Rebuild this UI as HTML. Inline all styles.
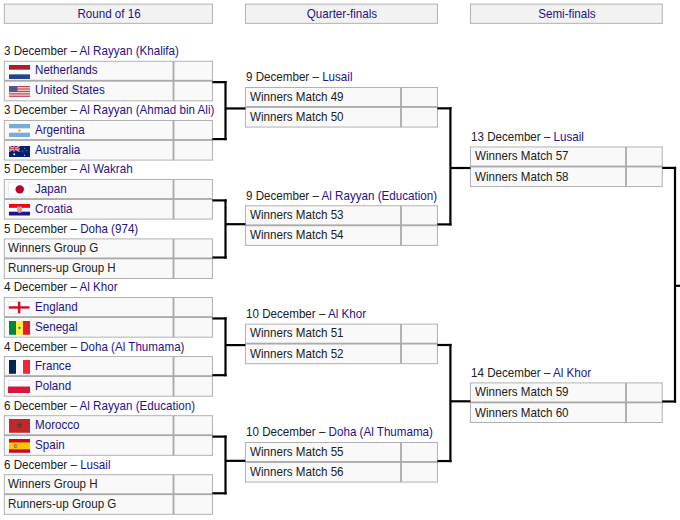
<!DOCTYPE html>
<html><head><meta charset="utf-8"><style>
html,body{margin:0;padding:0;background:#fff;}
body{width:680px;height:520px;position:relative;overflow:hidden;font-family:"Liberation Sans",sans-serif;font-size:13px;line-height:15px;color:#202122;}
.t{position:absolute;white-space:nowrap;transform:scaleX(0.893);transform-origin:0 0;}
.c{transform-origin:50% 0;}
.f{position:absolute;}
.f svg{display:block;width:100%;height:100%;}
svg.g{position:absolute;left:0;top:0;}
</style></head><body>
<svg class="g" width="680" height="520" viewBox="0 0 680 520"><rect x="4.30" y="4.10" width="208.10" height="19.20" fill="#f2f2f2"/><rect x="3.84" y="3.64" width="209.01" height="0.91" fill="#aaa"/><rect x="3.84" y="22.85" width="209.01" height="0.91" fill="#aaa"/><rect x="3.84" y="4.10" width="0.91" height="19.20" fill="#aaa"/><rect x="211.94" y="4.10" width="0.91" height="19.20" fill="#aaa"/><rect x="245.40" y="4.10" width="192.00" height="19.20" fill="#f2f2f2"/><rect x="244.94" y="3.64" width="192.91" height="0.91" fill="#aaa"/><rect x="244.94" y="22.85" width="192.91" height="0.91" fill="#aaa"/><rect x="244.94" y="4.10" width="0.91" height="19.20" fill="#aaa"/><rect x="436.94" y="4.10" width="0.91" height="19.20" fill="#aaa"/><rect x="470.40" y="4.10" width="191.80" height="19.20" fill="#f2f2f2"/><rect x="469.94" y="3.64" width="192.71" height="0.91" fill="#aaa"/><rect x="469.94" y="22.85" width="192.71" height="0.91" fill="#aaa"/><rect x="469.94" y="4.10" width="0.91" height="19.20" fill="#aaa"/><rect x="661.75" y="4.10" width="0.91" height="19.20" fill="#aaa"/><rect x="4.30" y="61.25" width="208.10" height="39.60" fill="#f9f9f9"/><rect x="3.84" y="60.80" width="209.01" height="0.91" fill="#aaa"/><rect x="3.84" y="100.39" width="209.01" height="0.91" fill="#aaa"/><rect x="4.30" y="79.84" width="208.10" height="1.82" fill="#aaa"/><rect x="3.84" y="61.25" width="0.91" height="39.60" fill="#aaa"/><rect x="211.94" y="61.25" width="0.91" height="39.60" fill="#aaa"/><rect x="172.59" y="61.25" width="1.82" height="39.60" fill="#aaa"/><rect x="4.30" y="120.50" width="208.10" height="39.60" fill="#f9f9f9"/><rect x="3.84" y="120.05" width="209.01" height="0.91" fill="#aaa"/><rect x="3.84" y="159.64" width="209.01" height="0.91" fill="#aaa"/><rect x="4.30" y="139.09" width="208.10" height="1.82" fill="#aaa"/><rect x="3.84" y="120.50" width="0.91" height="39.60" fill="#aaa"/><rect x="211.94" y="120.50" width="0.91" height="39.60" fill="#aaa"/><rect x="172.59" y="120.50" width="1.82" height="39.60" fill="#aaa"/><rect x="4.30" y="179.50" width="208.10" height="39.60" fill="#f9f9f9"/><rect x="3.84" y="179.04" width="209.01" height="0.91" fill="#aaa"/><rect x="3.84" y="218.64" width="209.01" height="0.91" fill="#aaa"/><rect x="4.30" y="198.09" width="208.10" height="1.82" fill="#aaa"/><rect x="3.84" y="179.50" width="0.91" height="39.60" fill="#aaa"/><rect x="211.94" y="179.50" width="0.91" height="39.60" fill="#aaa"/><rect x="172.59" y="179.50" width="1.82" height="39.60" fill="#aaa"/><rect x="4.30" y="238.90" width="208.10" height="39.60" fill="#f9f9f9"/><rect x="3.84" y="238.44" width="209.01" height="0.91" fill="#aaa"/><rect x="3.84" y="278.05" width="209.01" height="0.91" fill="#aaa"/><rect x="4.30" y="257.49" width="208.10" height="1.82" fill="#aaa"/><rect x="3.84" y="238.90" width="0.91" height="39.60" fill="#aaa"/><rect x="211.94" y="238.90" width="0.91" height="39.60" fill="#aaa"/><rect x="172.59" y="238.90" width="1.82" height="39.60" fill="#aaa"/><rect x="4.30" y="297.55" width="208.10" height="39.60" fill="#f9f9f9"/><rect x="3.84" y="297.10" width="209.01" height="0.91" fill="#aaa"/><rect x="3.84" y="336.70" width="209.01" height="0.91" fill="#aaa"/><rect x="4.30" y="316.14" width="208.10" height="1.82" fill="#aaa"/><rect x="3.84" y="297.55" width="0.91" height="39.60" fill="#aaa"/><rect x="211.94" y="297.55" width="0.91" height="39.60" fill="#aaa"/><rect x="172.59" y="297.55" width="1.82" height="39.60" fill="#aaa"/><rect x="4.30" y="356.60" width="208.10" height="39.60" fill="#f9f9f9"/><rect x="3.84" y="356.15" width="209.01" height="0.91" fill="#aaa"/><rect x="3.84" y="395.75" width="209.01" height="0.91" fill="#aaa"/><rect x="4.30" y="375.19" width="208.10" height="1.82" fill="#aaa"/><rect x="3.84" y="356.60" width="0.91" height="39.60" fill="#aaa"/><rect x="211.94" y="356.60" width="0.91" height="39.60" fill="#aaa"/><rect x="172.59" y="356.60" width="1.82" height="39.60" fill="#aaa"/><rect x="4.30" y="415.70" width="208.10" height="39.60" fill="#f9f9f9"/><rect x="3.84" y="415.25" width="209.01" height="0.91" fill="#aaa"/><rect x="3.84" y="454.85" width="209.01" height="0.91" fill="#aaa"/><rect x="4.30" y="434.29" width="208.10" height="1.82" fill="#aaa"/><rect x="3.84" y="415.70" width="0.91" height="39.60" fill="#aaa"/><rect x="211.94" y="415.70" width="0.91" height="39.60" fill="#aaa"/><rect x="172.59" y="415.70" width="1.82" height="39.60" fill="#aaa"/><rect x="4.30" y="474.70" width="208.10" height="39.60" fill="#f9f9f9"/><rect x="3.84" y="474.25" width="209.01" height="0.91" fill="#aaa"/><rect x="3.84" y="513.84" width="209.01" height="0.91" fill="#aaa"/><rect x="4.30" y="493.29" width="208.10" height="1.82" fill="#aaa"/><rect x="3.84" y="474.70" width="0.91" height="39.60" fill="#aaa"/><rect x="211.94" y="474.70" width="0.91" height="39.60" fill="#aaa"/><rect x="172.59" y="474.70" width="1.82" height="39.60" fill="#aaa"/><rect x="245.40" y="87.45" width="192.00" height="39.60" fill="#f9f9f9"/><rect x="244.94" y="87.00" width="192.91" height="0.91" fill="#aaa"/><rect x="244.94" y="126.60" width="192.91" height="0.91" fill="#aaa"/><rect x="245.40" y="106.04" width="192.00" height="1.82" fill="#aaa"/><rect x="244.94" y="87.45" width="0.91" height="39.60" fill="#aaa"/><rect x="436.94" y="87.45" width="0.91" height="39.60" fill="#aaa"/><rect x="400.09" y="87.45" width="1.82" height="39.60" fill="#aaa"/><rect x="245.40" y="205.80" width="192.00" height="39.60" fill="#f9f9f9"/><rect x="244.94" y="205.34" width="192.91" height="0.91" fill="#aaa"/><rect x="244.94" y="244.94" width="192.91" height="0.91" fill="#aaa"/><rect x="245.40" y="224.39" width="192.00" height="1.82" fill="#aaa"/><rect x="244.94" y="205.80" width="0.91" height="39.60" fill="#aaa"/><rect x="436.94" y="205.80" width="0.91" height="39.60" fill="#aaa"/><rect x="400.09" y="205.80" width="1.82" height="39.60" fill="#aaa"/><rect x="245.40" y="324.10" width="192.00" height="39.60" fill="#f9f9f9"/><rect x="244.94" y="323.65" width="192.91" height="0.91" fill="#aaa"/><rect x="244.94" y="363.25" width="192.91" height="0.91" fill="#aaa"/><rect x="245.40" y="342.69" width="192.00" height="1.82" fill="#aaa"/><rect x="244.94" y="324.10" width="0.91" height="39.60" fill="#aaa"/><rect x="436.94" y="324.10" width="0.91" height="39.60" fill="#aaa"/><rect x="400.09" y="324.10" width="1.82" height="39.60" fill="#aaa"/><rect x="245.40" y="442.45" width="192.00" height="39.60" fill="#f9f9f9"/><rect x="244.94" y="442.00" width="192.91" height="0.91" fill="#aaa"/><rect x="244.94" y="481.60" width="192.91" height="0.91" fill="#aaa"/><rect x="245.40" y="461.04" width="192.00" height="1.82" fill="#aaa"/><rect x="244.94" y="442.45" width="0.91" height="39.60" fill="#aaa"/><rect x="436.94" y="442.45" width="0.91" height="39.60" fill="#aaa"/><rect x="400.09" y="442.45" width="1.82" height="39.60" fill="#aaa"/><rect x="470.40" y="147.00" width="191.80" height="39.60" fill="#f9f9f9"/><rect x="469.94" y="146.54" width="192.71" height="0.91" fill="#aaa"/><rect x="469.94" y="186.14" width="192.71" height="0.91" fill="#aaa"/><rect x="470.40" y="165.59" width="191.80" height="1.82" fill="#aaa"/><rect x="469.94" y="147.00" width="0.91" height="39.60" fill="#aaa"/><rect x="661.75" y="147.00" width="0.91" height="39.60" fill="#aaa"/><rect x="625.09" y="147.00" width="1.82" height="39.60" fill="#aaa"/><rect x="470.40" y="382.90" width="191.80" height="39.60" fill="#f9f9f9"/><rect x="469.94" y="382.44" width="192.71" height="0.91" fill="#aaa"/><rect x="469.94" y="422.05" width="192.71" height="0.91" fill="#aaa"/><rect x="470.40" y="401.49" width="191.80" height="1.82" fill="#aaa"/><rect x="469.94" y="382.90" width="0.91" height="39.60" fill="#aaa"/><rect x="661.75" y="382.90" width="0.91" height="39.60" fill="#aaa"/><rect x="625.09" y="382.90" width="1.82" height="39.60" fill="#aaa"/><rect x="212.40" y="81.05" width="14.20" height="2.20" fill="#000"/><rect x="212.40" y="138.00" width="14.20" height="2.20" fill="#000"/><rect x="224.40" y="81.05" width="2.20" height="59.15" fill="#000"/><rect x="225.50" y="107.35" width="19.90" height="2.20" fill="#000"/><rect x="212.40" y="199.30" width="14.20" height="2.20" fill="#000"/><rect x="212.40" y="256.40" width="14.20" height="2.20" fill="#000"/><rect x="224.40" y="199.30" width="2.20" height="59.30" fill="#000"/><rect x="225.50" y="223.10" width="19.90" height="2.20" fill="#000"/><rect x="212.40" y="317.35" width="14.20" height="2.20" fill="#000"/><rect x="212.40" y="374.10" width="14.20" height="2.20" fill="#000"/><rect x="224.40" y="317.35" width="2.20" height="58.95" fill="#000"/><rect x="225.50" y="344.00" width="19.90" height="2.20" fill="#000"/><rect x="212.40" y="435.50" width="14.20" height="2.20" fill="#000"/><rect x="212.40" y="492.20" width="14.20" height="2.20" fill="#000"/><rect x="224.40" y="435.50" width="2.20" height="58.90" fill="#000"/><rect x="225.50" y="459.75" width="19.90" height="2.20" fill="#000"/><rect x="437.40" y="107.25" width="14.10" height="2.20" fill="#000"/><rect x="437.40" y="223.30" width="14.10" height="2.20" fill="#000"/><rect x="449.30" y="107.25" width="2.20" height="118.25" fill="#000"/><rect x="450.40" y="166.90" width="20.00" height="2.20" fill="#000"/><rect x="437.40" y="343.90" width="14.10" height="2.20" fill="#000"/><rect x="437.40" y="459.95" width="14.10" height="2.20" fill="#000"/><rect x="449.30" y="343.90" width="2.20" height="118.25" fill="#000"/><rect x="450.40" y="400.20" width="20.00" height="2.20" fill="#000"/><rect x="662.20" y="166.80" width="13.90" height="2.20" fill="#000"/><rect x="662.20" y="400.40" width="13.90" height="2.20" fill="#000"/><rect x="673.90" y="166.80" width="2.20" height="235.80" fill="#000"/><rect x="675.00" y="284.70" width="5.00" height="2.20" fill="#000"/></svg>
<div class="t c" style="left:5.10px;width:208.10px;text-align:center;top:6.00px;color:#24128a">Round of 16</div>
<div class="t c" style="left:246.20px;width:192.00px;text-align:center;top:6.00px;color:#24128a">Quarter-finals</div>
<div class="t c" style="left:471.20px;width:191.80px;text-align:center;top:6.00px;color:#24128a">Semi-finals</div>
<div class="t" style="left:3.50px;top:43.15px;"><span style="color:#202122">3 December – </span><span style="color:#24128a">Al Rayyan (Khalifa)</span></div>
<div class="f" style="left:9.00px;top:65.00px;width:21.00px;height:14.00px"><svg viewBox="0 0 9 6" preserveAspectRatio="none"><rect width="9" height="6" fill="#21468b"/><rect width="9" height="4" fill="#fff"/><rect width="9" height="2" fill="#ae1c28"/></svg></div>
<div class="t" style="left:34.80px;top:62.25px;"><span style="color:#24128a">Netherlands</span></div>
<div class="f" style="left:9.00px;top:86.20px;width:21.00px;height:11.10px"><svg viewBox="0 0 190 100" preserveAspectRatio="none"><rect width="190" height="100" fill="#fff"/><rect y="0.00" width="190" height="7.69" fill="#b22234"/><rect y="15.38" width="190" height="7.69" fill="#b22234"/><rect y="30.77" width="190" height="7.69" fill="#b22234"/><rect y="46.15" width="190" height="7.69" fill="#b22234"/><rect y="61.54" width="190" height="7.69" fill="#b22234"/><rect y="76.92" width="190" height="7.69" fill="#b22234"/><rect y="92.31" width="190" height="7.69" fill="#b22234"/><rect width="76" height="53.85" fill="#55548a"/></svg></div>
<div class="t" style="left:34.80px;top:82.45px;"><span style="color:#24128a">United States</span></div>
<div class="t" style="left:3.50px;top:102.40px;"><span style="color:#202122">3 December – </span><span style="color:#24128a">Al Rayyan (Ahmad bin Ali)</span></div>
<div class="f" style="left:9.00px;top:123.80px;width:21.00px;height:13.00px"><svg viewBox="0 0 9 6" preserveAspectRatio="none"><rect width="9" height="6" fill="#74acdf"/><rect y="2" width="9" height="2" fill="#fff"/><circle cx="4.5" cy="3" r="0.6" fill="#f6b40e"/></svg></div>
<div class="t" style="left:34.80px;top:121.50px;"><span style="color:#24128a">Argentina</span></div>
<div class="f" style="left:9.00px;top:145.80px;width:21.00px;height:11.00px"><svg viewBox="0 0 20 10" preserveAspectRatio="none"><rect width="20" height="10" fill="#012169"/><path d="M0 0L10 5M10 0L0 5" stroke="#fff" stroke-width="1"/><path d="M0 0L10 5M10 0L0 5" stroke="#c8102e" stroke-width="0.4"/><path d="M5 0V5M0 2.5H10" stroke="#fff" stroke-width="1.6"/><path d="M5 0V5M0 2.5H10" stroke="#c8102e" stroke-width="0.9"/><circle cx="5" cy="7.5" r="0.9" fill="#fff"/><circle cx="15" cy="2" r="0.45" fill="#fff"/><circle cx="12.5" cy="4.5" r="0.45" fill="#fff"/><circle cx="17" cy="4" r="0.45" fill="#fff"/><circle cx="15" cy="8.3" r="0.5" fill="#fff"/></svg></div>
<div class="t" style="left:34.80px;top:141.70px;"><span style="color:#24128a">Australia</span></div>
<div class="t" style="left:3.50px;top:161.40px;"><span style="color:#202122">5 December – </span><span style="color:#24128a">Al Wakrah</span></div>
<div class="f" style="left:8.20px;top:181.50px;width:22.30px;height:15.00px"><svg viewBox="0 0 23 16" preserveAspectRatio="none"><rect width="23" height="16" fill="#e4e6ee"/><rect x="0.8" y="0.8" width="21.4" height="14.4" fill="#fff"/><circle cx="12.1" cy="7.8" r="4.4" fill="#bc002d"/></svg></div>
<div class="t" style="left:34.80px;top:180.50px;"><span style="color:#24128a">Japan</span></div>
<div class="f" style="left:9.00px;top:204.20px;width:21.00px;height:11.50px"><svg viewBox="0 0 20 10" preserveAspectRatio="none"><defs><clipPath id="hrc"><path d="M7.7 2.9H12.3V6.2Q10 8.9 7.7 6.2Z"/></clipPath></defs><rect width="20" height="10" fill="#171796"/><rect width="20" height="6.67" fill="#fff"/><rect width="20" height="3.33" fill="#ff0000"/><path d="M7.7 2.9H12.3V6.2Q10 8.9 7.7 6.2Z" fill="#fff"/><g clip-path="url(#hrc)"><rect x="7.70" y="2.90" width="0.92" height="0.92" fill="#ff0000"/><rect x="9.54" y="2.90" width="0.92" height="0.92" fill="#ff0000"/><rect x="11.38" y="2.90" width="0.92" height="0.92" fill="#ff0000"/><rect x="8.62" y="3.82" width="0.92" height="0.92" fill="#ff0000"/><rect x="10.46" y="3.82" width="0.92" height="0.92" fill="#ff0000"/><rect x="7.70" y="4.74" width="0.92" height="0.92" fill="#ff0000"/><rect x="9.54" y="4.74" width="0.92" height="0.92" fill="#ff0000"/><rect x="11.38" y="4.74" width="0.92" height="0.92" fill="#ff0000"/><rect x="8.62" y="5.66" width="0.92" height="0.92" fill="#ff0000"/><rect x="10.46" y="5.66" width="0.92" height="0.92" fill="#ff0000"/><rect x="7.70" y="6.58" width="0.92" height="0.92" fill="#ff0000"/><rect x="9.54" y="6.58" width="0.92" height="0.92" fill="#ff0000"/><rect x="11.38" y="6.58" width="0.92" height="0.92" fill="#ff0000"/></g><rect x="7.7" y="1.9" width="4.6" height="1.0" fill="#5a8ad0"/></svg></div>
<div class="t" style="left:34.80px;top:200.70px;"><span style="color:#24128a">Croatia</span></div>
<div class="t" style="left:3.50px;top:220.80px;"><span style="color:#202122">5 December – </span><span style="color:#24128a">Doha (974)</span></div>
<div class="t" style="left:7.90px;top:239.90px;"><span style="color:#202122">Winners Group G</span></div>
<div class="t" style="left:7.90px;top:260.10px;"><span style="color:#202122">Runners-up Group H</span></div>
<div class="t" style="left:3.50px;top:279.45px;"><span style="color:#202122">4 December – </span><span style="color:#24128a">Al Khor</span></div>
<div class="f" style="left:8.20px;top:301.40px;width:22.30px;height:13.10px"><svg viewBox="0 0 23 14" preserveAspectRatio="none"><rect width="23" height="14" fill="#e4e6ee"/><rect x="0.8" y="0.8" width="21.4" height="12.4" fill="#fff"/><rect x="0.8" y="5.6" width="21.4" height="2.6" fill="#ce1124"/><rect x="10.2" y="0.8" width="2.6" height="12.4" fill="#ce1124"/></svg></div>
<div class="t" style="left:34.80px;top:298.55px;"><span style="color:#24128a">England</span></div>
<div class="f" style="left:9.00px;top:321.00px;width:21.00px;height:13.80px"><svg viewBox="0 0 9 6" preserveAspectRatio="none"><rect width="3" height="6" fill="#00853f"/><rect x="3" width="3" height="6" fill="#fdef42"/><rect x="6" width="3" height="6" fill="#e31b23"/><path d="M4.5 2.2L4.98 3.67L3.73 2.76H5.27L4.02 3.67Z" fill="#00853f"/></svg></div>
<div class="t" style="left:34.80px;top:318.75px;"><span style="color:#24128a">Senegal</span></div>
<div class="t" style="left:3.50px;top:338.50px;"><span style="color:#202122">4 December – </span><span style="color:#24128a">Doha (Al Thumama)</span></div>
<div class="f" style="left:9.00px;top:360.00px;width:21.00px;height:13.80px"><svg viewBox="0 0 9 6" preserveAspectRatio="none"><rect width="3" height="6" fill="#002654"/><rect x="3" width="3" height="6" fill="#fff"/><rect x="6" width="3" height="6" fill="#ed2939"/></svg></div>
<div class="t" style="left:34.80px;top:357.60px;"><span style="color:#24128a">France</span></div>
<div class="f" style="left:8.20px;top:380.40px;width:22.30px;height:13.10px"><svg viewBox="0 0 23 14" preserveAspectRatio="none"><rect width="23" height="14" fill="#e4e6ee"/><rect x="0.8" y="0.8" width="21.4" height="6.2" fill="#fff"/><rect x="0" y="7" width="23" height="7" fill="#dc143c"/></svg></div>
<div class="t" style="left:34.80px;top:377.80px;"><span style="color:#24128a">Poland</span></div>
<div class="t" style="left:3.50px;top:397.60px;"><span style="color:#202122">6 December – </span><span style="color:#24128a">Al Rayyan (Education)</span></div>
<div class="f" style="left:9.00px;top:419.00px;width:21.00px;height:13.80px"><svg viewBox="0 0 9 6" preserveAspectRatio="none"><rect width="9" height="6" fill="#c1272d"/><path d="M4.5 1.6L5.2 3.8L3.4 2.4H5.6L3.8 3.8Z" fill="none" stroke="#3a4a20" stroke-width="0.35"/></svg></div>
<div class="t" style="left:34.80px;top:416.70px;"><span style="color:#24128a">Morocco</span></div>
<div class="f" style="left:9.00px;top:439.00px;width:21.00px;height:13.80px"><svg viewBox="0 0 12 8" preserveAspectRatio="none"><rect width="12" height="8" fill="#c60b1e"/><rect y="2" width="12" height="4" fill="#ffc400"/><ellipse cx="3.8" cy="4.1" rx="1.05" ry="1.25" fill="#c0603a"/><ellipse cx="4.0" cy="4.2" rx="0.5" ry="0.6" fill="#d8b0c8"/></svg></div>
<div class="t" style="left:34.80px;top:436.90px;"><span style="color:#24128a">Spain</span></div>
<div class="t" style="left:3.50px;top:456.60px;"><span style="color:#202122">6 December – </span><span style="color:#24128a">Lusail</span></div>
<div class="t" style="left:7.90px;top:475.70px;"><span style="color:#202122">Winners Group H</span></div>
<div class="t" style="left:7.90px;top:495.90px;"><span style="color:#202122">Runners-up Group G</span></div>
<div class="t" style="left:245.90px;top:69.35px;"><span style="color:#202122">9 December – </span><span style="color:#24128a">Lusail</span></div>
<div class="t" style="left:250.10px;top:88.55px;"><span style="color:#202122">Winners Match 49</span></div>
<div class="t" style="left:250.10px;top:109.05px;"><span style="color:#202122">Winners Match 50</span></div>
<div class="t" style="left:245.90px;top:187.70px;"><span style="color:#202122">9 December – </span><span style="color:#24128a">Al Rayyan (Education)</span></div>
<div class="t" style="left:250.10px;top:206.90px;"><span style="color:#202122">Winners Match 53</span></div>
<div class="t" style="left:250.10px;top:227.40px;"><span style="color:#202122">Winners Match 54</span></div>
<div class="t" style="left:245.90px;top:306.00px;"><span style="color:#202122">10 December – </span><span style="color:#24128a">Al Khor</span></div>
<div class="t" style="left:250.10px;top:325.20px;"><span style="color:#202122">Winners Match 51</span></div>
<div class="t" style="left:250.10px;top:345.70px;"><span style="color:#202122">Winners Match 52</span></div>
<div class="t" style="left:245.90px;top:424.35px;"><span style="color:#202122">10 December – </span><span style="color:#24128a">Doha (Al Thumama)</span></div>
<div class="t" style="left:250.10px;top:443.55px;"><span style="color:#202122">Winners Match 55</span></div>
<div class="t" style="left:250.10px;top:464.05px;"><span style="color:#202122">Winners Match 56</span></div>
<div class="t" style="left:470.90px;top:128.90px;"><span style="color:#202122">13 December – </span><span style="color:#24128a">Lusail</span></div>
<div class="t" style="left:475.10px;top:148.10px;"><span style="color:#202122">Winners Match 57</span></div>
<div class="t" style="left:475.10px;top:168.60px;"><span style="color:#202122">Winners Match 58</span></div>
<div class="t" style="left:470.90px;top:364.80px;"><span style="color:#202122">14 December – </span><span style="color:#24128a">Al Khor</span></div>
<div class="t" style="left:475.10px;top:384.00px;"><span style="color:#202122">Winners Match 59</span></div>
<div class="t" style="left:475.10px;top:404.50px;"><span style="color:#202122">Winners Match 60</span></div>
</body></html>
